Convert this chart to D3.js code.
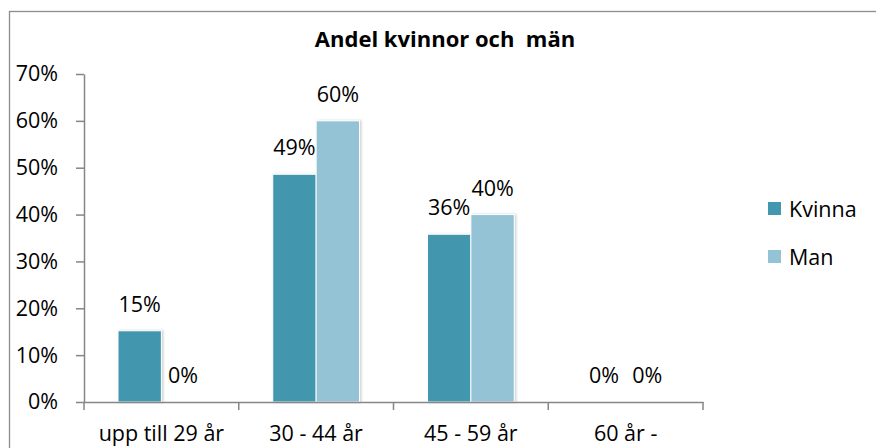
<!DOCTYPE html>
<html>
<head>
<meta charset="utf-8">
<script src="https://cdn.jsdelivr.net/npm/d3@7"></script>
<style>
  body { margin: 0; background: #fff; }
  text { font-family: "Open Sans", "Liberation Sans", sans-serif; fill: #000; }
</style>
</head>
<body>
<div id="chart"></div>
<script>
// Chart data
const categories = ['upp till 29 år', '30 - 44 år', '45 - 59 år', '60 år -'];
const seriesNames = ['Kvinna', 'Man'];
const kvinna = [0.152, 0.486, 0.358, 0];
const man = [0, 0.60, 0.40, 0];
const labelsKvinna = ['15%', '49%', '36%', '0%'];
const labelsMan = ['0%', '60%', '40%', '0%'];
const yTicks = [0, 0.1, 0.2, 0.3, 0.4, 0.5, 0.6, 0.7];

const colors = { Kvinna: '#4397ae', Man: '#93c3d4' };

const width = 876, height = 448;
const plot = { left: 84, right: 703, top: 74, bottom: 402 };
const fs = '21.5px';

const svg = d3.select('#chart')
    .append('svg')
    .attr('width', width)
    .attr('height', height);

// soft shadow like the original bars
const defs = svg.append('defs');
const f = defs.append('filter').attr('id', 'shadow')
    .attr('x', '-20%').attr('y', '-20%').attr('width', '140%').attr('height', '140%');
f.append('feDropShadow').attr('dx', 1.5).attr('dy', 0).attr('stdDeviation', 1.2)
    .attr('flood-color', '#000').attr('flood-opacity', 0.18);

// outer chart border
svg.append('rect')
    .attr('x', 9.5).attr('y', 11.5)
    .attr('width', 880).attr('height', 460)
    .attr('fill', 'none')
    .attr('stroke', '#8c8c8c')
    .attr('stroke-width', 1.3);

svg.append('text')
    .attr('x', 445)
    .attr('y', 47)
    .attr('text-anchor', 'middle')
    .style('font-size', '22px')
    .style('font-weight', 'bold')
    .style('white-space', 'pre')
    .text('Andel kvinnor och  män');

const x = d3.scaleBand()
    .domain(categories)
    .range([plot.left, plot.right]);

const xInner = d3.scaleBand()
    .domain(seriesNames)
    .range([34, x.bandwidth() - 34]);

const y = d3.scaleLinear()
    .domain([0, 0.7])
    .range([plot.bottom, plot.top]);

const rows = categories.map((c, i) => ({
    cat: c,
    values: [
        { key: 'Kvinna', v: kvinna[i], label: labelsKvinna[i] },
        { key: 'Man', v: man[i], label: labelsMan[i] }
    ]
}));

const groups = svg.append('g')
    .selectAll('g')
    .data(rows)
    .enter()
    .append('g')
    .attr('transform', d => `translate(${x(d.cat)},0)`);

groups.selectAll('rect')
    .data(d => d.values.filter(v => v.v > 0))
    .enter()
    .append('rect')
    .attr('x', d => xInner(d.key))
    .attr('y', d => y(d.v))
    .attr('width', xInner.bandwidth())
    .attr('height', d => y(0) - y(d.v))
    .attr('fill', d => colors[d.key])
    .attr('stroke', '#fff')
    .attr('stroke-width', 1)
    .attr('filter', 'url(#shadow)');

groups.selectAll('text')
    .data(d => d.values)
    .enter()
    .append('text')
    .attr('x', d => xInner(d.key) + xInner.bandwidth() / 2)
    .attr('y', d => y(d.v) - 19)
    .attr('text-anchor', 'middle')
    .style('font-size', fs)
    .text(d => d.label);

// y axis
const yAxis = svg.append('g')
    .attr('transform', `translate(${plot.left},0)`)
    .call(d3.axisLeft(y).tickValues(yTicks).tickFormat(d3.format('.0%')).tickSize(8).tickSizeOuter(0).tickPadding(18));
yAxis.selectAll('text').style('font-size', fs);

// x axis
const xAxis = svg.append('g')
    .attr('transform', `translate(0,${plot.bottom})`)
    .call(d3.axisBottom(x).tickSize(0).tickSizeOuter(0).tickPadding(24));
xAxis.selectAll('text').style('font-size', fs);
xAxis.selectAll('.tick line').remove();
xAxis.append('g')
    .selectAll('line')
    .data(categories.concat(['end']))
    .enter()
    .append('line')
    .attr('x1', (d, i) => i < categories.length ? x(d) : plot.right)
    .attr('x2', (d, i) => i < categories.length ? x(d) : plot.right)
    .attr('y1', 0)
    .attr('y2', 8);

svg.selectAll('.domain, .tick line, g line')
    .attr('stroke', '#868686')
    .attr('stroke-width', 1.5);

// legend
const legend = svg.append('g')
    .selectAll('g')
    .data(seriesNames)
    .enter()
    .append('g')
    .attr('transform', (d, i) => `translate(768,${202 + i * 48})`);

legend.append('rect')
    .attr('width', 13)
    .attr('height', 13)
    .attr('fill', d => colors[d]);

legend.append('text')
    .attr('x', 21)
    .attr('y', 15)
    .style('font-size', fs)
    .text(d => d);
</script>
</body>
</html>
